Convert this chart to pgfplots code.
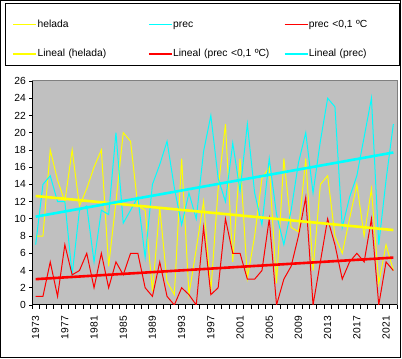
\documentclass[border=0pt]{standalone}
\usepackage{pgfplots}
\pgfplotsset{compat=1.18}
\usepackage{pgfplotstable}
\usepackage{fontspec}
\setmainfont{Liberation Sans}
\definecolor{bgray}{HTML}{C0C0C0}
\definecolor{fgray}{HTML}{808080}
\definecolor{cyanl}{HTML}{00FFFF}
\definecolor{yell}{HTML}{FFFF00}
\definecolor{redl}{HTML}{FF0000}

\pgfplotstableread{
year helada prec bajo
1973 8 7 1
1974 8 14 1
1975 18 15 5
1976 14.5 12 1
1977 12 12 7
1978 18 3.5 3.5
1979 11.5 11 4
1980 13.5 11.5 6
1981 16 5 2
1982 18 11 6
1983 4.5 10.5 2
1984 12 20 5
1985 20 9.5 3.5
1986 19 11 6
1987 11.5 12.5 6
1988 11 5.5 2
1989 1.6 14 1
1990 11.3 16.3 5
1991 2.7 19 1
1992 1.2 13.6 0
1993 17 9.3 2
1994 1.2 13 1.2
1995 6.5 10 0
1996 12 17.8 9
1997 1.6 22 1.2
1998 13.5 14.7 2
1999 21 12 10
2000 5 18.8 6
2001 17 13.2 6
2002 3.1 21 3
2003 8 13 3
2004 14.7 9.3 4
2005 16 17 10
2006 2.5 10.5 0
2007 17 7 3
2008 9 11 4.5
2009 8.5 16.5 8
2010 17 20 12.5
2011 4 13 0
2012 14 19 5
2013 15 24 10
2014 8 23 7
2015 6 9 3
2016 10 12.5 5
2017 14 15 6
2018 8 19.5 5
2019 13.5 24 10
2020 2.5 7 0
2021 7 14.5 5
2022 4 21 4
}\datatable

\newcommand{\chartfont}{\fontsize{10.3bp}{12bp}\selectfont}

\begin{document}
\begin{tikzpicture}
\path[use as bounding box] (0,0) rectangle (402bp,359bp);
\fill[white] (0,0) rectangle (402bp,359bp);
\draw[black, line width=1bp] (0.5bp,1.5bp) rectangle (400.5bp,358.5bp);
\draw[black, line width=1bp] (5bp,293.3bp) rectangle (399.5bp,355.7bp);
\begin{axis}[
  at={(32bp,54bp)}, anchor=south west,
  scale only axis, width=365bp, height=224bp,
  xmin=1972.5, xmax=2022.5, ymin=0, ymax=26,
  axis background/.style={fill=bgray},
  axis line style={black, line width=1bp},
  xtick={1973,1977,...,2021},
  minor xtick={1972.5,1973.5,...,2022.5},
  ytick={0,2,...,26},
  tick align=outside,
  xtick pos=bottom, ytick pos=left,
  major tick length=3bp,
  minor tick length=4bp,
  every tick/.style={black, line width=0.8bp},
  every major x tick/.append style={draw=none},
  /pgf/number format/1000 sep={},
  /pgf/number format/assume math mode=true,
  tick label style={font=\chartfont},
  xticklabel style={rotate=90, anchor=east, inner sep=0pt, xshift=-8bp},
  yticklabel style={inner sep=0pt, xshift=-3bp},
  legend columns=3,
  legend cell align=left,
  legend image code/.code={\draw[#1] (0bp,0bp) -- (23bp,0bp);},
  legend style={draw=none, fill=none, inner sep=0pt, outer sep=0pt,
    at={(-0.05479,1.27388)}, anchor=north west,
    font=\chartfont, row sep=19.8bp, column sep=0pt,
    nodes={inner sep=0pt, text height=7.5bp, text depth=2.2bp, text width=110bp, align=left},
    column 1/.style={column sep=3.5bp},
    column 2/.style={column sep=0pt},
    column 3/.style={column sep=3.5bp},
    column 4/.style={column sep=0pt},
    column 5/.style={column sep=3.5bp}},
  clip=true,
  after end axis/.code={\draw[fgray, line width=1bp] (rel axis cs:0,1) -- (rel axis cs:1,1) -- (rel axis cs:1,0);},
]
\addplot[yell, line width=1bp] table[x=year, y=helada]{\datatable};
\addlegendentry{helada}
\addplot[cyanl, line width=1bp] table[x=year, y=prec]{\datatable};
\addlegendentry{prec}
\addplot[redl, line width=1bp] table[x=year, y=bajo]{\datatable};
\addlegendentry{prec <0,1 ºC}
\addplot[yell, line width=2.6bp] coordinates {(1973,12.65) (2022,8.7)};
\addlegendentry{Lineal (helada)}
\addplot[redl, line width=2.6bp] coordinates {(1973,3.0) (2022,5.5)};
\addlegendentry{Lineal (prec <0,1 ºC)}
\addplot[cyanl, line width=2.6bp] coordinates {(1973,10.25) (2022,17.7)};
\addlegendentry{Lineal (prec)}
\end{axis}
\end{tikzpicture}
\end{document}
